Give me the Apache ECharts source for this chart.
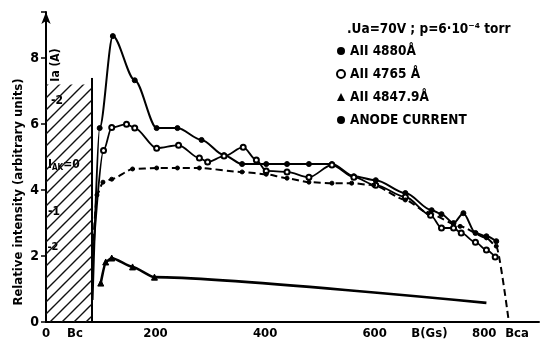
<!DOCTYPE html>
<html>
<head>
<meta charset="utf-8">
<script src="https://cdn.jsdelivr.net/npm/echarts@6/dist/echarts.min.js"></script>
<style>
  html, body { margin: 0; padding: 0; background: #fff; }
  #chart { width: 542px; height: 341px; }
</style>
</head>
<body>
<div id="chart"></div>
<script>
// values: B in Gs, intensity in arbitrary units
const b4880 = [85, 98, 122, 162, 202, 240, 284, 325, 358, 402, 440, 480, 522, 562, 602, 656, 704, 722, 744, 762, 784, 804, 822];
const i4880 = [0.67, 5.88, 8.67, 7.33, 5.88, 5.88, 5.52, 5.06, 4.79, 4.79, 4.79, 4.79, 4.79, 4.42, 4.3, 3.91, 3.39, 3.27, 3.0, 3.3, 2.7, 2.6, 2.45];

const b4765 = [85, 105, 120, 147, 162, 202, 242, 280, 295, 325, 360, 384, 402, 440, 480, 522, 562, 602, 656, 702, 722, 744, 758, 784, 804, 820];
const i4765 = [1.8, 5.2, 5.9, 6.0, 5.88, 5.27, 5.36, 4.97, 4.85, 5.03, 5.3, 4.91, 4.58, 4.55, 4.39, 4.76, 4.39, 4.15, 3.79, 3.24, 2.85, 2.85, 2.7, 2.42, 2.18, 1.97];

const b4847 = [100, 109, 120, 158, 198, 804];
const i4847 = [1.18, 1.82, 1.94, 1.67, 1.36, 0.58];

const bAnode = [84, 93, 104, 120, 158, 202, 240, 280, 358, 402, 440, 480, 522, 558, 598, 656, 698, 756, 804, 822, 845];
const iAnode = [1.8, 3.85, 4.24, 4.33, 4.64, 4.67, 4.67, 4.67, 4.55, 4.48, 4.36, 4.24, 4.21, 4.21, 4.15, 3.7, 3.3, 2.9, 2.55, 2.3, 0];

// hatched region below Bc and its right edge
const hatchB = [0, 84];
const hatchTop = 7.2;
const edgeB = [84, 84];
const edgeI = [0, 7.4];

const xTickLabels = { 0: "0", 200: "200", 400: "400", 600: "600", 700: "B(Gs)", 800: "800" };
const yTickLabels = { 0: "0", 2: "2", 4: "4", 6: "6", 8: "8" };

const FONT = "'DejaVu Sans Condensed', 'DejaVu Sans', sans-serif";

const zip = (xs, ys) => xs.map((x, i) => [x, ys[i]]);

const pat = document.createElement("canvas");
pat.width = 12;
pat.height = 12;
const pctx = pat.getContext("2d");
pctx.strokeStyle = "#111";
pctx.lineWidth = 1.4;
pctx.beginPath();
pctx.moveTo(0, 12); pctx.lineTo(12, 0);
pctx.moveTo(-2, 2); pctx.lineTo(2, -2);
pctx.moveTo(10, 14); pctx.lineTo(14, 10);
pctx.stroke();

const chart = echarts.init(document.getElementById("chart"), null, { renderer: "canvas" });

const lineBase = {
  type: "line",
  smooth: 0.3,
  smoothMonotone: "x",
  color: "#000",
  lineStyle: { color: "#000", width: 2 },
  itemStyle: { color: "#000", borderColor: "#000" },
  z: 3,
};

chart.setOption({
  animation: false,
  backgroundColor: "#fff",
  grid: { left: 46, right: 1, top: 12, bottom: 19 },
  xAxis: {
    type: "value",
    min: 0,
    max: 900,
    interval: 100,
    splitLine: { show: false },
    axisTick: { show: false },
    axisLine: { onZero: false, lineStyle: { color: "#000", width: 2 } },
    axisLabel: {
      color: "#000",
      fontFamily: FONT,
      fontWeight: "bold",
      fontSize: 13,
      margin: 5,
      formatter: (v) => xTickLabels[v] || "",
    },
  },
  yAxis: {
    type: "value",
    min: 0,
    max: 9.4,
    interval: 2,
    splitLine: { show: false },
    axisTick: { show: true, length: 5, lineStyle: { color: "#000", width: 1.5 } },
    axisLine: {
      lineStyle: { color: "#000", width: 2 },
      symbol: ["none", "arrow"],
      symbolSize: [7, 12],
    },
    axisLabel: {
      color: "#000",
      fontFamily: FONT,
      fontWeight: "bold",
      fontSize: 14,
      margin: 7,
      formatter: (v) => yTickLabels[v] || "",
    },
  },
  legend: {
    orient: "vertical",
    left: 336,
    top: 44,
    padding: 0,
    itemGap: 9,
    itemWidth: 8,
    itemHeight: 8,
    textStyle: { color: "#000", fontFamily: FONT, fontWeight: "bold", fontSize: 13.5 },
    data: [
      { name: "AII 4880Å", icon: "circle", itemStyle: { color: "#000" } },
      { name: "AII 4765 Å", icon: "emptyCircle", itemStyle: { color: "#000", borderColor: "#000", borderWidth: 2 } },
      { name: "AII 4847.9Å", icon: "triangle", itemStyle: { color: "#000" } },
      { name: "ANODE CURRENT", icon: "circle", itemStyle: { color: "#000" } },
    ],
  },
  graphic: [
    {
      type: "text", x: 19, y: 192, rotation: Math.PI / 2,
      style: { text: "Relative intensity (arbitrary units)", fill: "#000", font: "bold 13px " + FONT, align: "center", verticalAlign: "middle" },
    },
    {
      type: "text", x: 347, y: 29,
      style: { text: ".Ua=70V ; p=6·10⁻⁴ torr", fill: "#000", font: "bold 13.5px " + FONT, align: "left", verticalAlign: "middle" },
    },
    {
      type: "text", x: 75, y: 334,
      style: { text: "Bc", fill: "#000", font: "bold 13px " + FONT, align: "center", verticalAlign: "middle" },
    },
    {
      type: "text", x: 517, y: 334,
      style: { text: "Bca", fill: "#000", font: "bold 13px " + FONT, align: "center", verticalAlign: "middle" },
    },
    {
      type: "text", x: 56, y: 65, rotation: Math.PI / 2,
      style: { text: "Ia (A)", fill: "#000", font: "bold 12px " + FONT, align: "center", verticalAlign: "middle", backgroundColor: "#fff" },
    },
    {
      type: "text", x: 57, y: 101,
      style: { text: "-2", fill: "#000", font: "bold 12px " + FONT, align: "center", verticalAlign: "middle", backgroundColor: "#fff" },
    },
    {
      type: "text", x: 48, y: 165,
      style: {
        text: "{a|I}{s|AK}{a|=0}",
        fill: "#000",
        align: "left",
        verticalAlign: "middle",
        backgroundColor: "#fff",
        rich: {
          a: { font: "bold 12px " + FONT, fill: "#000" },
          s: { font: "bold 8px " + FONT, fill: "#000", padding: [6, 0, 0, 0] },
        },
      },
    },
    {
      type: "text", x: 54, y: 212,
      style: { text: "-1", fill: "#000", font: "bold 12px " + FONT, align: "center", verticalAlign: "middle", backgroundColor: "#fff" },
    },
    {
      type: "text", x: 53, y: 247,
      style: { text: "-2", fill: "#000", font: "bold 11px " + FONT, align: "center", verticalAlign: "middle", backgroundColor: "#fff" },
    },
  ],
  series: [
    {
      name: "hatch",
      type: "line",
      data: zip(edgeB, edgeI),
      symbol: "none",
      lineStyle: { color: "#000", width: 2 },
      z: 2,
      markArea: {
        silent: true,
        itemStyle: { color: { image: pat, repeat: "repeat" } },
        data: [[{ coord: [hatchB[0], 0] }, { coord: [hatchB[1], hatchTop] }]],
      },
    },
    Object.assign({}, lineBase, {
      name: "AII 4880Å",
      data: zip(b4880, i4880),
      symbol: "circle",
      symbolSize: (v, p) => (p.dataIndex === 0 ? 0 : 5),
    }),
    Object.assign({}, lineBase, {
      name: "AII 4765 Å",
      data: zip(b4765, i4765),
      symbol: "emptyCircle",
      symbolSize: (v, p) => (p.dataIndex === 0 ? 0 : 5),
      itemStyle: { color: "#000", borderColor: "#000", borderWidth: 1.5 },
      lineStyle: { color: "#000", width: 1.8 },
    }),
    Object.assign({}, lineBase, {
      name: "AII 4847.9Å",
      data: zip(b4847, i4847),
      symbol: "triangle",
      symbolSize: (v, p) => (p.dataIndex === b4847.length - 1 ? 0 : 6),
      lineStyle: { color: "#000", width: 2.6 },
      smooth: 0.2,
    }),
    Object.assign({}, lineBase, {
      name: "ANODE CURRENT",
      data: zip(bAnode, iAnode),
      symbol: "circle",
      symbolSize: (v, p) => (p.dataIndex === 0 || p.dataIndex === bAnode.length - 1 ? 0 : 4),
      lineStyle: { color: "#000", width: 2, type: [7, 4] },
      smooth: 0.2,
    }),
  ],
});
</script>
</body>
</html>
